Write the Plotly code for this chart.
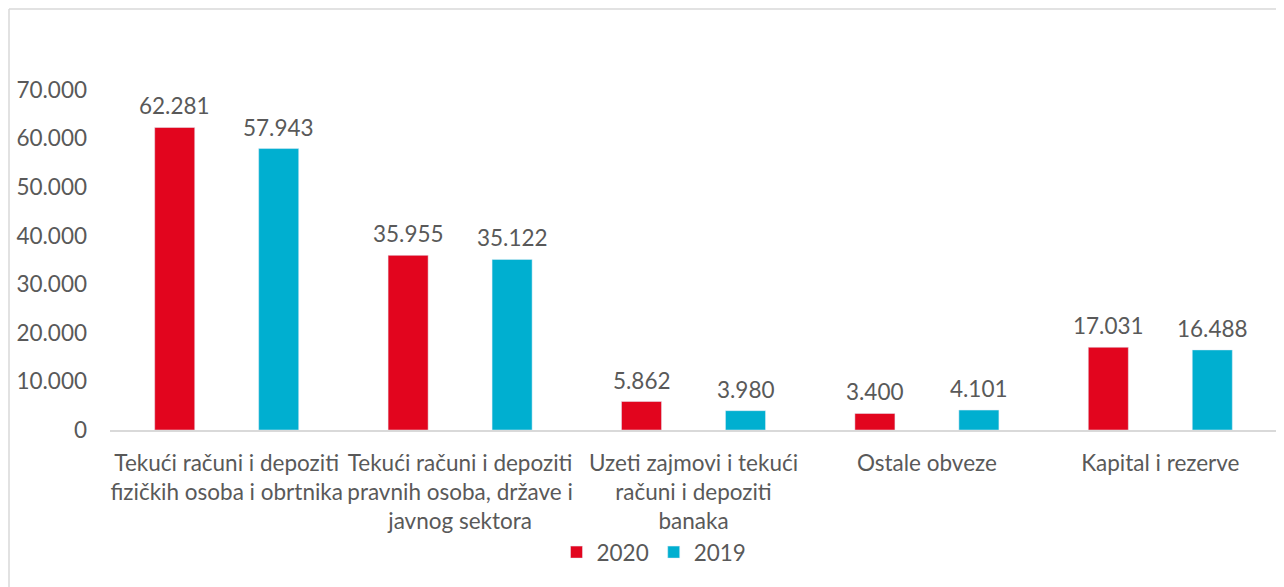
import plotly.graph_objects as go

categories = [
    "Tekući računi i depoziti<br>fizičkih osoba i obrtnika",
    "Tekući računi i depoziti<br>pravnih osoba, države i<br>javnog sektora",
    "Uzeti zajmovi i tekući<br>računi i depoziti<br>banaka",
    "Ostale obveze",
    "Kapital i rezerve",
]
values_2020 = [62281, 35955, 5862, 3400, 17031]
values_2019 = [57943, 35122, 3980, 4101, 16488]
series_names = ["2020", "2019"]
y_ticks = [0, 10000, 20000, 30000, 40000, 50000, 60000, 70000]

RED = "#E2051E"
CYAN = "#00AFD0"
TXT = "#595959"
FONT = "Lato"
FS = 22.5

fig = go.Figure()
fig.add_trace(go.Bar(x=categories, y=values_2020, name=series_names[0], marker_color=RED))
fig.add_trace(go.Bar(x=categories, y=values_2019, name=series_names[1], marker_color=CYAN))

annotations = []
for vals, shift in ((values_2020, -52), (values_2019, 52)):
    for c, v in zip(categories, vals):
        annotations.append(dict(
            x=c, y=v, xref="x", yref="y", text=f"{v:,}".replace(",", "."),
            showarrow=False, xshift=shift, yanchor="bottom", yshift=6,
            font=dict(family=FONT, size=FS, color=TXT)))

# page has an 8px body margin, so figure coords = screen coords - 8
OFF = 8
W, H = 1284, 587
L, T = 110 - OFF, 90 - OFF
R = W - (1277 - OFF)
B = H - (430 - OFF)
pw, ph = W - L - R, H - T - B
bx = (9 - OFF - L) / pw
by = 1 + (T - (9 - OFF)) / ph

shapes = [
    dict(type="line", xref="paper", yref="paper", x0=bx, x1=bx, y0=-(B + 5) / ph, y1=by,
         line=dict(color="#D9D9D9", width=1.5)),
    dict(type="line", xref="paper", yref="paper", x0=bx, x1=1 + (R + 5) / pw, y0=by, y1=by,
         line=dict(color="#D9D9D9", width=1.5)),
]

fig.update_layout(
    width=W, height=H,
    margin=dict(l=L, r=R, t=T, b=B, autoexpand=False),
    paper_bgcolor="white", plot_bgcolor="white",
    barmode="group", bargap=0.109, bargroupgap=0.615,
    separators=",.",
    font=dict(family=FONT, size=FS, color=TXT),
    showlegend=True,
    legend=dict(orientation="h", x=(654 - 110) / pw, xanchor="center", y=-0.297, yanchor="top",
                font=dict(family=FONT, size=FS, color=TXT), traceorder="normal",
                itemwidth=30),
    annotations=annotations,
    shapes=shapes,
)
fig.update_xaxes(showline=True, linecolor="#D9D9D9", linewidth=1.5, showgrid=False,
                 ticks="", tickangle=0, ticklabelstandoff=12, automargin=False,
                 tickfont=dict(family=FONT, size=FS, color=TXT))
fig.update_yaxes(range=[0, 70000], tickvals=y_ticks, tickformat=",d", showgrid=False,
                 zeroline=False, showline=False, ticks="", ticklabelstandoff=22,
                 automargin=False,
                 tickfont=dict(family=FONT, size=FS, color=TXT))

fig.write_html("out.html")
